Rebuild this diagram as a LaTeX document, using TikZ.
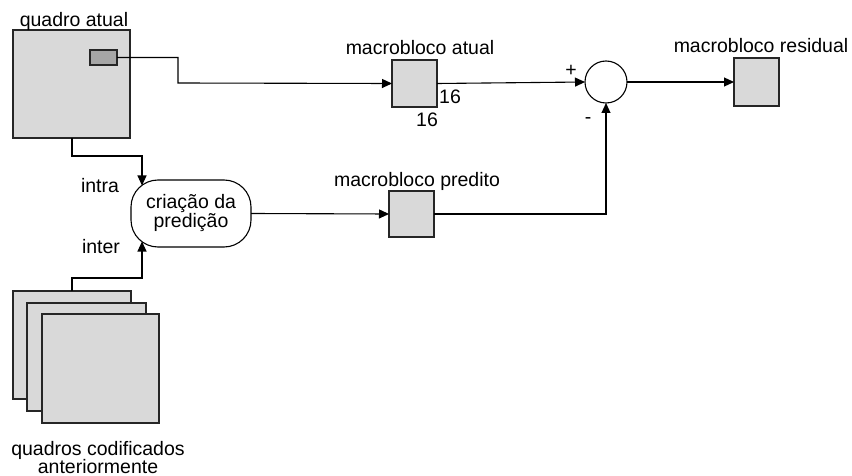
\documentclass[tikz,border=0pt]{standalone}
\usepackage{fontspec}
\setmainfont{Liberation Sans}
\usetikzlibrary{arrows.meta}
\begin{document}
\begin{tikzpicture}[x=1pt,y=-1pt,
  font=\fontsize{19.5}{19}\selectfont,
  blk/.style={draw=black!85,line width=1.3pt,fill=black!15,inner sep=0pt,outer sep=0pt},
  lbl/.style={inner sep=0pt,anchor=base},
  wire/.style={line width=1.1pt},
  arr/.style={wire,-{Triangle[length=10pt,width=9pt]}},
]
\useasboundingbox (0,0) rectangle (852,476);

% current frame with the selected macroblock
\node[blk,minimum width=117pt,minimum height=108pt] (qa) at (71.5,84) {};
\node[lbl] (qaL) at (74,27) {quadro atual};
\node[blk,fill=black!35,minimum width=27pt,minimum height=15pt] (mb) at (103.5,57.5) {};

% current macroblock
\node[blk,minimum width=45pt,minimum height=47pt] (mba) at (414.5,83.5) {};
\node[lbl] (mbaL) at (420,55) {macrobloco atual};
\node[lbl,anchor=base west] (n16a) at (439,104) {16};
\node[lbl] (n16b) at (427,127) {16};

% subtractor
\node[draw,circle,line width=1.1pt,minimum size=42pt,inner sep=0pt,outer sep=0pt] (sum) at (606,82) {};
\node[lbl] (plus) at (571,77) {+};
\node[lbl] (minus) at (588,124) {-};

% residual macroblock
\node[blk,minimum width=45pt,minimum height=48pt] (mbr) at (756.5,82) {};
\node[lbl] (mbrL) at (761,53) {macrobloco residual};

% prediction stage
\node[draw,line width=1.1pt,rounded corners=27pt,minimum width=120pt,minimum height=67pt,
      inner sep=0pt,outer sep=0pt,align=center] (pred) at (191,213.5)
      {cria\c{c}\~ao da\\predi\c{c}\~ao};
\node[lbl] (intraL) at (100,193) {intra};
\node[lbl] (interL) at (101,253) {inter};

% predicted macroblock
\node[blk,minimum width=45pt,minimum height=46pt] (mbp) at (411.5,214) {};
\node[lbl] (mbpL) at (417,187) {macrobloco predito};

% stack of previously coded frames
\node[blk,minimum width=118pt,minimum height=108pt] (f1) at (72,345) {};
\node[blk,minimum width=119pt,minimum height=108pt] (f2) at (86.5,357) {};
\node[blk,minimum width=117pt,minimum height=109pt] (f3) at (100.5,368.5) {};
\node[lbl] (fL1) at (98,455) {quadros codificados};
\node[lbl] (fL2) at (98,473) {anteriormente};

% end points on the rounded outline of the prediction block
\coordinate (intraEnd) at (142,185.5);
\coordinate (interEnd) at (142,241.5);

% connectors
\draw[arr] (mb.east) -| (178,83) -- (mba.west);
\draw[arr] (mba.east) -- (sum.west);
\draw[arr] (sum.east) -- (mbr.west);
\draw[arr] (qa.south -| 72,0) |- (142,156) -- (intraEnd);
\draw[arr] (f1.north -| 72,0) |- (142,278) -- (interEnd);
\draw[arr] (pred.east) -- (mbp.west);
\draw[arr] (mbp.east) -| (sum.south);
\end{tikzpicture}
\end{document}
